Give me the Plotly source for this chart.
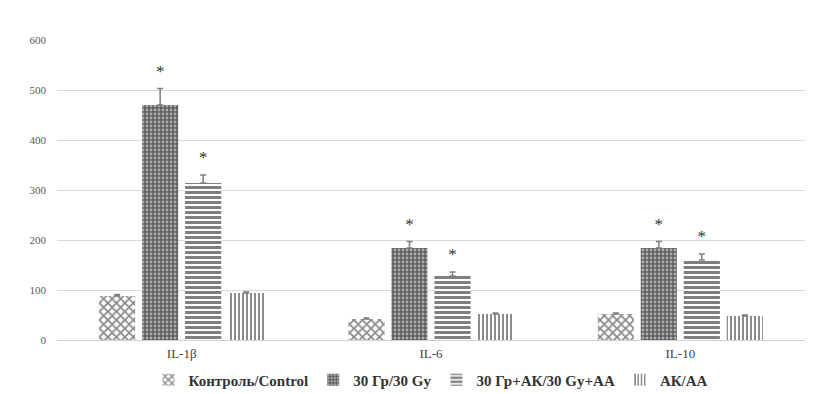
import plotly.graph_objects as go

categories = ["IL-1β", "IL-6", "IL-10"]
series_names = ["Контроль/Control", "30 Гр/30 Gy", "30 Гр+АК/30 Gy+AA", "АК/AA"]
control = [88, 42, 52]
control_err = [3, 2, 2]
gy30 = [470, 184, 184]
gy30_err = [33, 13, 13]
gy30_aa = [314, 128, 160]
gy30_aa_err = [16, 8, 12]
aa = [94, 52, 48]
aa_err = [2, 2, 2]
stars = [[False, False, False], [True, True, True], [True, True, True], [False, False, False]]

values = [control, gy30, gy30_aa, aa]
errors = [control_err, gy30_err, gy30_aa_err, aa_err]

patterns = [
    dict(shape="x", size=6, solidity=0.5, fgcolor="#111111", bgcolor="white"),
    dict(shape=".", size=4, solidity=0.4, fgcolor="white", bgcolor="#5e5e5e"),
    dict(shape="-", size=5, solidity=0.6, fgcolor="black", bgcolor="white"),
    dict(shape="|", size=4, solidity=0.45, fgcolor="black", bgcolor="white"),
]

# the page body has an 8px margin; the figure is sized to fit the 820x394 window
fig = go.Figure()
STAR_PAD = 32
for i, name in enumerate(series_names):
    fig.add_trace(go.Bar(
        x=categories, y=values[i], name=name, offsetgroup=str(i),
        marker=dict(color="white", pattern=patterns[i], line=dict(width=0)),
        error_y=dict(type="data", symmetric=False, array=errors[i],
                     arrayminus=[0] * len(errors[i]), visible=True,
                     color="#7f7f7f", thickness=1.5, width=3),
    ))
for i, name in enumerate(series_names):
    ys = [v + e + STAR_PAD for v, e in zip(values[i], errors[i])]
    fig.add_trace(go.Scatter(
        x=categories, y=ys, mode="text", offsetgroup=str(i),
        text=["*" if s else "" for s in stars[i]],
        textposition="middle center",
        textfont=dict(family="Liberation Serif", size=17, color="#333333"),
        showlegend=False, hoverinfo="skip",
    ))

H = 386
fig.update_layout(
    width=812, height=H,
    margin=dict(l=49, r=15, t=32, b=54, autoexpand=False),
    barmode="group", bargap=0.31, bargroupgap=0.16,
    scattermode="group", scattergap=0.31,
    plot_bgcolor="white", paper_bgcolor="white",
    font=dict(family="Liberation Serif", color="#595959"),
    showlegend=True,
    legend=dict(orientation="h", x=0.5, xanchor="center",
                yref="container", y=1 - 372 / H, yanchor="middle",
                font=dict(family="Liberation Serif", size=15, color="#333333",
                          weight="bold"),
                traceorder="normal", itemwidth=30, tracegroupgap=0),
    xaxis=dict(showgrid=False, showline=False, ticks="", automargin=False,
               tickfont=dict(size=13, color="#404040"), ticklabelstandoff=4),
    yaxis=dict(range=[0, 600], dtick=100, showgrid=True, gridcolor="#d9d9d9",
               gridwidth=1, zeroline=True, zerolinecolor="#d0d0d0", zerolinewidth=1,
               ticks="", automargin=False,
               tickfont=dict(size=11, color="#595959"), ticklabelstandoff=10),
)
fig.write_html("out.html")
